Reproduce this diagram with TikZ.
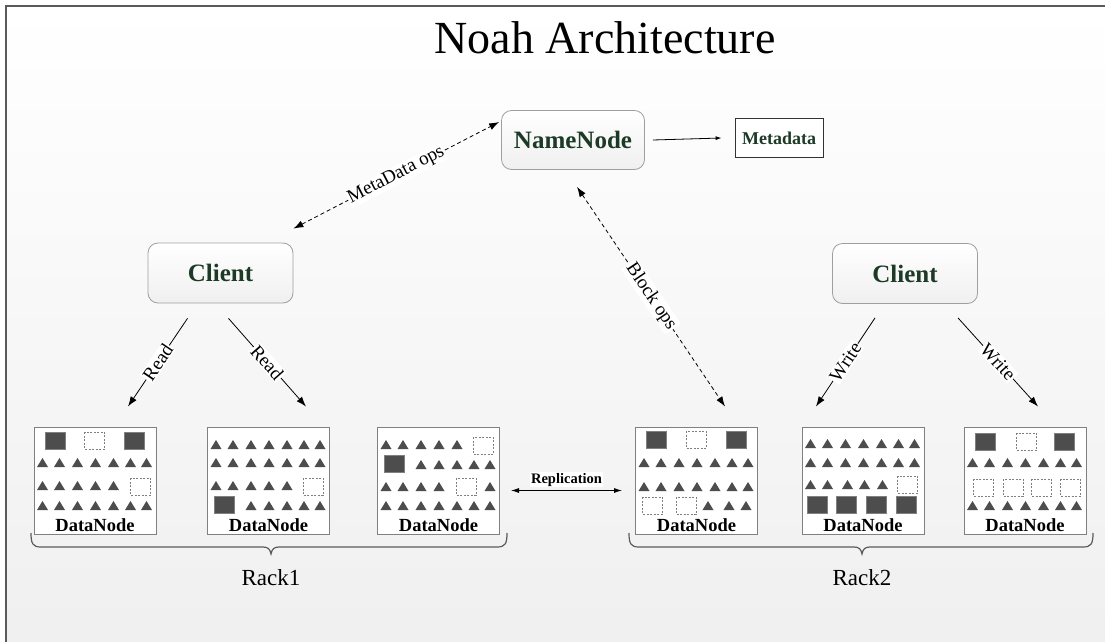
\documentclass[tikz,border=0pt]{standalone}
\usepackage{fontspec}
\setmainfont{Liberation Serif}
\usepackage{xcolor}
\usepackage{tikz}
\usetikzlibrary{arrows.meta}

\definecolor{nodegreen}{RGB}{28,58,38}
\definecolor{blockgray}{RGB}{77,77,77}
\definecolor{framegray}{RGB}{90,90,90}

% blocks inside a DataNode (local coordinates, y downwards)
\newcommand{\dntri}[2]{\fill[blockgray] ({#1-5.5},{#2+4.5}) -- ({#1+5.5},{#2+4.5}) -- (#1,{#2-4.5}) -- cycle;}
\newcommand{\dnfull}[2]{\filldraw[fill=blockgray, draw=gray] ({#1-10},{#2-8.5}) rectangle ({#1+10},{#2+8.5});}
\newcommand{\dnfree}[2]{\filldraw[fill=white, draw=gray, dash pattern=on 2pt off 1.5pt] ({#1-10},{#2-8.5}) rectangle ({#1+10},{#2+8.5});}
% rack brace: left end, tip, right end
\newcommand{\rackbrace}[3]{\draw[framegray, line width=1.2pt] (#1,533) .. controls (#1,544) and ({#1+2},547) .. ({#1+10},547) -- ({#2-8},547) .. controls ({#2-3},547) and ({#2-1},549) .. (#2,554) .. controls ({#2+1},549) and ({#2+3},547) .. ({#2+8},547) -- ({#3-10},547) .. controls ({#3-2},547) and (#3,544) .. (#3,533);}

\tikzset{
	rbox/.style={draw=gray!75, rounded corners=10pt, top color=white, bottom color=gray!12,
		line width=0.8pt, minimum width=143pt, minimum height=59pt, text=nodegreen,
		font=\fontsize{25}{30}\selectfont\bfseries},
	dnbox/.style={draw=gray, fill=white, line width=1pt, minimum width=122pt, minimum height=107pt,
		inner sep=0pt, label={[dnlabel, anchor=south, inner sep=3pt]south:DataNode}},
	dnlabel/.style={font=\fontsize{18.5}{20}\selectfont\bfseries},
	lbl/.style={sloped, fill=white, inner sep=1pt, font=\fontsize{19}{21}\selectfont},
	repl/.style={fill=white, inner sep=1pt, font=\fontsize{14.5}{16}\selectfont\bfseries},
	ops/.style={<->, dashed, dash pattern=on 4pt off 3pt, line width=0.8pt},
}

\begin{document}
\begin{tikzpicture}[x=1pt, y=-1pt, >={Latex[length=10pt,width=7pt]}]
	\useasboundingbox (0,0) rectangle (1105,642);
	
	% 1. background and frame
	\shade[top color=white, bottom color=gray!12] (6,6) rectangle (1105,642);
	\draw[framegray, line width=1.5pt] (1105,6) -- (6,6) -- (6,642);
	\node[font=\fontsize{46}{52}\selectfont] (T) at (605,38) {Noah Architecture};
	
	% 2. NameNode, Metadata, clients
	\node[rbox] (NN) at (573,140) {NameNode};
	\node[draw=black!80, fill=white, line width=0.8pt, minimum width=88pt, minimum height=39pt,
		text=nodegreen, font=\fontsize{18}{20}\selectfont\bfseries] (MD) at (779,138) {Metadata};
	\node[rbox, minimum width=145pt, minimum height=60pt] (CL) at (220.5,273) {Client};
	\node[rbox, minimum width=145pt, minimum height=60pt] (CR) at (905,273.5) {Client};
	
	\draw[->, >={Latex[length=6pt,width=4pt]}, line width=0.8pt] ([xshift=8pt]NN.east) -- ([xshift=-13pt]MD.west);
	
	% 3. DataNodes of Rack1
	\node[dnbox] (D1) at (95,480.5) {};
	\begin{scope}[shift={(D1.north west)}]
		\dnfull{22}{14} \dnfree{61}{14} \dnfull{101}{14}
		\foreach \x in {9,26,44,62,80,97,113} {\dntri{\x}{36} \dntri{\x}{79}}
		\foreach \x in {9,26,44,62,80} {\dntri{\x}{59}}
		\dnfree{107}{60}
	\end{scope}
	
	\node[dnbox] (D2) at (268.5,480.5) {};
	\begin{scope}[shift={(D2.north west)}]
		\foreach \x in {9,26,44,62,80,97,113} {\dntri{\x}{18} \dntri{\x}{36}}
		\foreach \x in {9,26,44,62,80} {\dntri{\x}{59}}
		\dnfree{106}{60}
		\dnfull{17.5}{78}
		\foreach \x in {44,62,80,97,113} {\dntri{\x}{79}}
	\end{scope}
	
	\node[dnbox] (D3) at (438.5,480.5) {};
	\begin{scope}[shift={(D3.north west)}]
		\foreach \x in {9,26,44,62,80} {\dntri{\x}{18}}
		\dnfree{106}{19}
		\dnfull{17.5}{37.5}
		\foreach \x in {44,62,80,97,113} {\dntri{\x}{38}}
		\foreach \x in {9,26,44,62,113} {\dntri{\x}{60}}
		\dnfree{89}{60}
		\foreach \x in {9,26,44,62,80,97,113} {\dntri{\x}{79}}
	\end{scope}
	
	% 4. DataNodes of Rack2
	\node[dnbox] (D4) at (696.5,480.5) {};
	\begin{scope}[shift={(D4.north west)}]
		\dnfull{21}{13} \dnfree{61}{13} \dnfull{101}{13}
		\foreach \x in {9,26,44,62,80,97,113} {\dntri{\x}{36} \dntri{\x}{60}}
		\dnfree{17.5}{79} \dnfree{51}{79}
		\foreach \x in {73,94,111} {\dntri{\x}{79}}
	\end{scope}
	
	\node[dnbox] (D5) at (863,480.5) {};
	\begin{scope}[shift={(D5.north west)}]
		\foreach \x in {9,26,44,62,80,97,113} {\dntri{\x}{17} \dntri{\x}{36}}
		\foreach \x in {9,26,46,63,81} {\dntri{\x}{58}}
		\dnfree{106}{58}
		\foreach \x in {16,45,75,105} {\dnfull{\x}{78}}
	\end{scope}
	
	\node[dnbox] (D6) at (1025,480.5) {};
	\begin{scope}[shift={(D6.north west)}]
		\dnfull{22}{15} \dnfree{63}{15} \dnfull{101}{15}
		\foreach \x in {9,26,44,62,80,97,113} {\dntri{\x}{36} \dntri{\x}{79}}
		\foreach \x in {20,49.5,78,107} {\dnfree{\x}{61}}
	\end{scope}
	
	% 5. operations
	\draw[ops] ([yshift=14pt]CL.north east) -- node[lbl] {MetaData ops} ([xshift=-2pt,yshift=18pt]NN.west);
	\draw[ops] ([xshift=4pt,yshift=-17pt]NN.south) -- node[lbl] {Block ops} ([xshift=28.5pt,yshift=20pt]D4.north);
	
	\draw[->, line width=0.8pt] ([xshift=-33pt,yshift=-15pt]CL.south) -- node[lbl] {Read} ([xshift=33pt,yshift=20pt]D1.north);
	\draw[->, line width=0.8pt] ([xshift=8pt,yshift=-15pt]CL.south) -- node[lbl] {Read} ([xshift=37.5pt,yshift=20pt]D2.north);
	\draw[->, line width=0.8pt] ([xshift=-30pt,yshift=-14pt]CR.south) -- node[lbl] {Write} ([xshift=-47pt,yshift=20pt]D5.north);
	\draw[->, line width=0.8pt] ([xshift=53pt,yshift=-14pt]CR.south) -- node[lbl] {Write} ([xshift=13pt,yshift=20pt]D6.north);
	
	\draw[<->, >={Latex[length=8pt,width=5pt]}, line width=0.8pt] ([shift={(11,10)}]D3.east) -- node[repl, above, yshift=3pt] {Replication} ([shift={(-13,10)}]D4.west);
	
	% 6. racks
	\rackbrace{31}{271}{507}
	\rackbrace{629}{862}{1093}
	\node[font=\fontsize{23}{26}\selectfont] (R1) at (271,578) {Rack1};
	\node[font=\fontsize{23}{26}\selectfont] (R2) at (862,578) {Rack2};
	
\end{tikzpicture}
\end{document}
